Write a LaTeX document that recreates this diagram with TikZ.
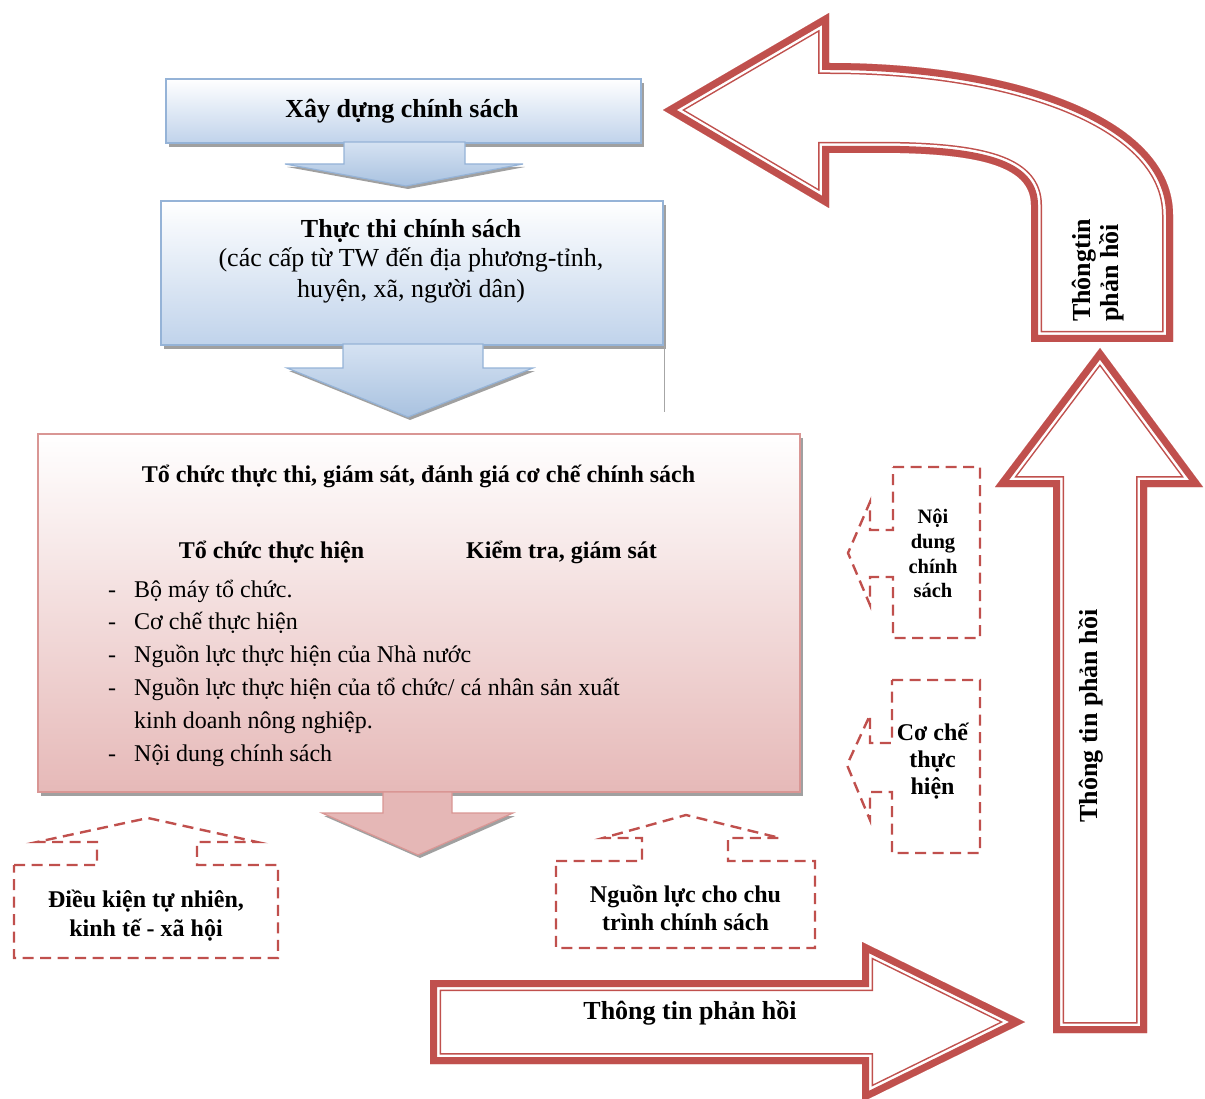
\documentclass[tikz,border=0pt]{standalone}
\usepackage{fontspec}
\setmainfont{Liberation Serif}
\usetikzlibrary{shadows}
\definecolor{redline}{HTML}{C0504D}
\definecolor{bluebot}{HTML}{C0D3EB}
\definecolor{blueborder}{HTML}{95B3D7}
\definecolor{arrowtop}{HTML}{D5E2F2}
\definecolor{arrowbot}{HTML}{A9C2E0}
\definecolor{pinkbot}{HTML}{E6B9B8}
\definecolor{pinkborder}{HTML}{D99694}
\definecolor{pinkarrow}{HTML}{E5B7B6}
\definecolor{shadowgray}{HTML}{A0A0A0}

\newcommand{\dblarrow}[1]{%
  \fill[white] #1;
  \begin{scope}
    \clip #1;
    \draw[redline, line width=22] #1;
    \draw[white, line width=19] #1;
    \draw[redline, line width=14] #1;
  \end{scope}}

\tikzset{
  boxshadow/.style={drop shadow={shadow xshift=3pt, shadow yshift=-4pt, fill=shadowgray, opacity=1}},
  bluebox/.style={draw=blueborder, line width=1.8, top color=white, bottom color=bluebot, boxshadow, inner sep=0, anchor=north west},
  pinkbox/.style={draw=pinkborder, line width=1.8, top color=white, bottom color=pinkbot, boxshadow, inner sep=0, anchor=north west},
  blockarrow/.style={draw=blueborder, line width=1.2, top color=arrowtop, bottom color=arrowbot},
  pinkblock/.style={draw=pinkborder, line width=1.2, fill=pinkarrow},
  callout/.style={draw=redline, line width=2.4, dash pattern=on 11pt off 6.5pt},
  bigbold/.style={font=\fontsize{26}{30}\selectfont\bfseries, inner sep=0, anchor=base},
  bigreg/.style={font=\fontsize{26}{30}\selectfont, inner sep=0, anchor=base},
  midbold/.style={font=\fontsize{24}{28}\selectfont\bfseries, inner sep=0, anchor=base},
  listtxt/.style={font=\fontsize{24}{28}\selectfont, inner sep=0, anchor=base west},
  smallbold/.style={font=\fontsize{20.5}{24}\selectfont\bfseries, inner sep=0, anchor=base},
}

\begin{document}
\begin{tikzpicture}[x=1pt, y=-1pt]
\useasboundingbox (0,0) rectangle (1205,1099);

% ---------- red double-line arrows ----------
\dblarrow{(663,110) -- (829,13) -- (829,63) .. controls (1020,63) and (1173,120) .. (1173,215) -- (1173,342) -- (1031,342) -- (1031,205) .. controls (1031,170) and (990,155) .. (900,153) -- (829,153) -- (829,208) -- cycle}
\dblarrow{(1053,1033) -- (1053,487) -- (995,487) -- (1100,348) -- (1203,487) -- (1147,487) -- (1147,1033) -- cycle}
\dblarrow{(430,980) -- (862,980) -- (862,942) -- (1025,1022) -- (862,1102) -- (862,1064) -- (430,1064) -- cycle}

\node[bigbold, rotate=90, anchor=base west] (fbA) at (1090,322) {Thôngtin};
\node[bigbold, rotate=90, anchor=base west] (fbB) at (1118,322) {phản hồi};
\node[bigbold, rotate=90] (fbV) at (1097,716) {Thông tin phản hồi};
\node[bigbold] (fbH) at (690,1019) {Thông tin phản hồi};

% ---------- blue boxes ----------
\node[bluebox, minimum width=475, minimum height=64] (build) at (165,78) {};
\node[bigbold] (buildtxt) at (402,118) {Xây dựng chính sách};

\fill[shadowgray, shift={(2,3)}] (285,164) -- (406,186) -- (523,164) -- cycle;
\path[blockarrow] (344,142) -- (465,142) -- (465,164) -- (523,164) -- (406,186) -- (285,164) -- (344,164) -- cycle;

\node[bluebox, minimum width=502, minimum height=144] (exec) at (160,200) {};
\node[bigbold] (exect1) at (411,238) {Thực thi chính sách};
\node[bigreg] (exect2) at (411,267) {(các cấp từ TW đến địa phương-tỉnh,};
\node[bigreg] (exect3) at (411,298) {huyện, xã, người dân)};

\draw[gray!70, line width=0.8] (664,346) -- (664,412);
\fill[shadowgray, shift={(2,3)}] (287,368) -- (408,417) -- (533,368) -- cycle;
\path[blockarrow] (343,344) -- (483,344) -- (483,368) -- (533,368) -- (408,417) -- (287,368) -- (343,368) -- cycle;

% ---------- pink box ----------
\node[pinkbox, minimum width=762, minimum height=358] (org) at (37,433) {};
\node[midbold] (orgtitle) at (418.5,482) {Tổ chức thực thi, giám sát, đánh giá cơ chế chính sách};
\node[midbold] (sub1) at (271.5,558) {Tổ chức thực hiện};
\node[midbold] (sub2) at (561.5,558) {Kiểm tra, giám sát};

\node[listtxt] (d1) at (108,597) {-};
\node[listtxt] (i1) at (134,597) {Bộ máy tổ chức.};
\node[listtxt] (d2) at (108,629.8) {-};
\node[listtxt] (i2) at (134,629.8) {Cơ chế thực hiện};
\node[listtxt] (d3) at (108,662.6) {-};
\node[listtxt] (i3) at (134,662.6) {Nguồn lực thực hiện của Nhà nước};
\node[listtxt] (d4) at (108,695.4) {-};
\node[listtxt] (i4) at (134,695.4) {Nguồn lực thực hiện của tổ chức/ cá nhân sản xuất};
\node[listtxt] (i4b) at (134,728.2) {kinh doanh nông nghiệp.};
\node[listtxt] (d5) at (108,761) {-};
\node[listtxt] (i5) at (134,761) {Nội dung chính sách};

\fill[shadowgray, shift={(2,3)}] (322,813) -- (418,855) -- (513,813) -- cycle;
\path[pinkblock] (383,792) -- (452,792) -- (452,813) -- (513,813) -- (418,855) -- (322,813) -- (383,813) -- cycle;

% ---------- dashed callouts ----------
\draw[callout] (14,865) -- (97,865) -- (97,842) -- (37,842) -- (148,818) -- (257,842) -- (197,842) -- (197,865) -- (278,865) -- (278,958) -- (14,958) -- cycle;
\node[midbold] (c1a) at (146,907) {Điều kiện tự nhiên,};
\node[midbold] (c1b) at (146,936) {kinh tế - xã hội};

\draw[callout] (556,861) -- (642,861) -- (642,838) -- (603,838) -- (686,815) -- (780,838) -- (728,838) -- (728,861) -- (815,861) -- (815,948) -- (556,948) -- cycle;
\node[midbold] (c2a) at (685.5,902) {Nguồn lực cho chu};
\node[midbold] (c2b) at (685.5,930) {trình chính sách};

\draw[callout] (893,467) -- (980,467) -- (980,638) -- (893,638) -- (893,577) -- (870,577) -- (870,605) -- (848,553) -- (870,502) -- (870,530) -- (893,530) -- cycle;
\node[smallbold] (c3a) at (933,523) {Nội};
\node[smallbold] (c3b) at (933,548) {dung};
\node[smallbold] (c3c) at (933,573) {chính};
\node[smallbold] (c3d) at (933,597) {sách};

\draw[callout] (892,680) -- (980,680) -- (980,853) -- (892,853) -- (892,792) -- (870,792) -- (870,820) -- (847,765) -- (870,715) -- (870,743) -- (892,743) -- cycle;
\node[midbold] (c4a) at (932.5,740) {Cơ chế};
\node[midbold] (c4b) at (932.5,767) {thực};
\node[midbold] (c4c) at (932.5,794) {hiện};

\end{tikzpicture}
\end{document}
